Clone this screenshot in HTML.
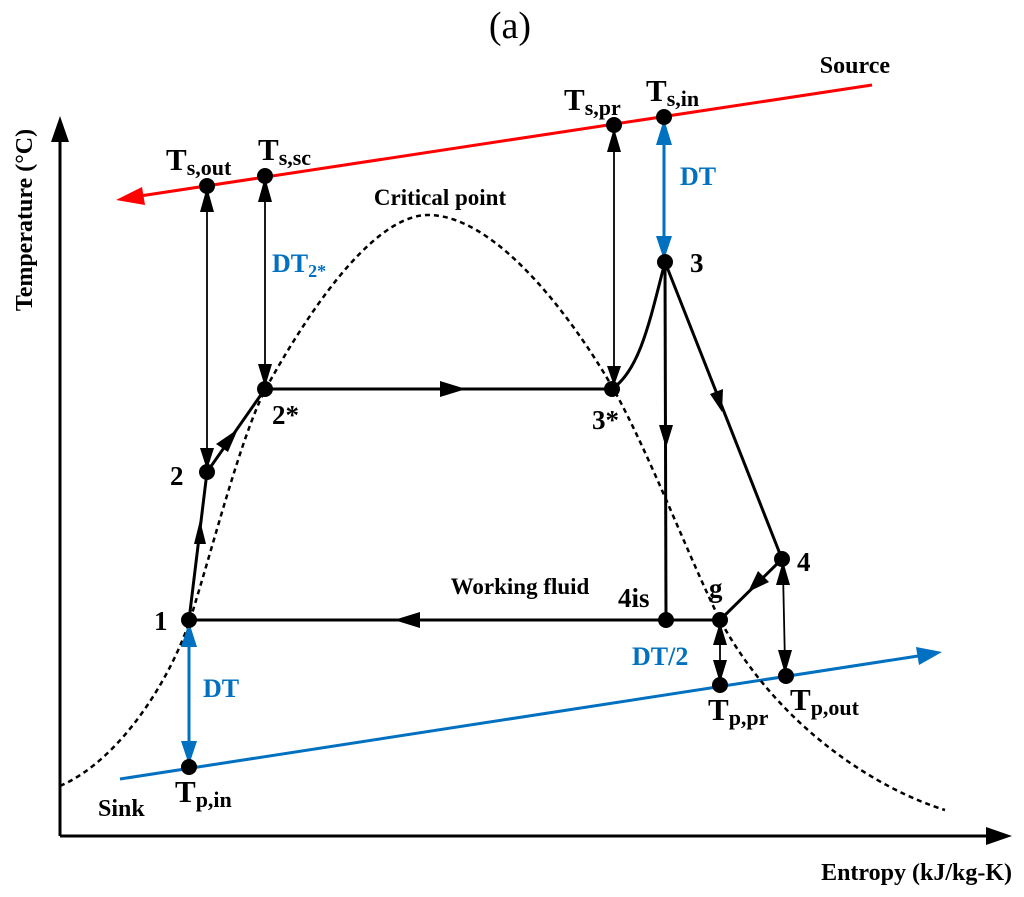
<!DOCTYPE html>
<html><head><meta charset="utf-8"><style>
html,body{margin:0;padding:0;background:#fff;}
svg{display:block;}
text{font-family:"Liberation Serif",serif;font-weight:bold;fill:#000;}
</style></head><body>
<svg width="1024" height="897" viewBox="0 0 1024 897" xmlns="http://www.w3.org/2000/svg">
<text x="510" y="38" font-size="38" text-anchor="middle" style="font-weight:normal">(a)</text>
<!-- axes -->
<line x1="60" y1="836" x2="60" y2="140" stroke="#000" stroke-width="3"/>
<polygon points="60,116 51,142 69,142" fill="#000"/>
<line x1="60" y1="836" x2="990" y2="836" stroke="#000" stroke-width="3"/>
<polygon points="1012,836 986,827 986,845" fill="#000"/>
<text transform="translate(32,220) rotate(-90)" font-size="24" text-anchor="middle">Temperature (°C)</text>
<text x="1012" y="880" font-size="24" text-anchor="end">Entropy (kJ/kg-K)</text>
<!-- source line -->
<line x1="872" y1="85" x2="140" y2="196" stroke="#f00" stroke-width="3"/>
<polygon points="116,200 142,187 145,205" fill="#f00"/>
<text x="890" y="73" font-size="24" text-anchor="end">Source</text>
<!-- sink line -->
<line x1="120" y1="779" x2="918" y2="656" stroke="#0070c0" stroke-width="3"/>
<polygon points="942,652 916,647 919,665" fill="#0070c0"/>
<text x="98" y="816" font-size="24">Sink</text>
<!-- dome -->
<path d="M60,786 C120,760 170,680 190,620 C215,540 240,440 265,390 C320,290 380,215 428,215 C500,215 580,330 614,390 C650,455 690,560 720,620 C780,730 880,790 945,810" fill="none" stroke="#000" stroke-width="2.5" stroke-dasharray="5,4"/>
<text x="440" y="205" font-size="23" text-anchor="middle">Critical point</text>
<!-- cycle -->
<g stroke="#000" stroke-width="3" fill="none">
<polyline points="189,620 207,472 265,389 612,389"/>
<path d="M612,389 C640,370 650,320 665,262"/>
<line x1="665" y1="262" x2="666" y2="620"/>
<line x1="665" y1="262" x2="782" y2="559"/>
<line x1="782" y1="559" x2="720" y2="620"/>
<line x1="720" y1="620" x2="189" y2="620"/>
</g>
<!-- mid arrows -->
<polygon points="200,520 194,544 206,544" fill="#000"/>
<polygon points="238,429 228,452 216,444" fill="#000"/>
<polygon points="466,389 440,381 440,397" fill="#000"/>
<polygon points="666,448 659,425 673,425" fill="#000"/>
<polygon points="722,412 710,394 723,389" fill="#000"/>
<polygon points="748,592 769,582 758,571" fill="#000"/>
<polygon points="394,620 420,612 420,628" fill="#000"/>
<text x="520" y="594" font-size="23" text-anchor="middle">Working fluid</text>
<!-- vertical double arrows black -->
<g stroke="#000" stroke-width="1.8">
<line x1="207" y1="200" x2="207" y2="460"/>
<line x1="265" y1="190" x2="265" y2="376"/>
<line x1="614" y1="140" x2="614" y2="376"/>
<line x1="720" y1="632" x2="720" y2="674"/>
<line x1="783" y1="572" x2="785" y2="664"/>
</g>
<g fill="#000">
<polygon points="207,187 200,212 214,212"/><polygon points="207,470 200,448 214,448"/>
<polygon points="265,177 258,202 272,202"/><polygon points="265,387 258,364 272,364"/>
<polygon points="614,128 607,152 621,152"/><polygon points="614,386 607,366 621,366"/>
<polygon points="720,622 713,645 727,645"/><polygon points="720,683 713,660 727,660"/>
<polygon points="783,561 776,585 790,585"/><polygon points="785,674 778,650 792,650"/>
</g>
<!-- blue DT arrows -->
<g stroke="#0070c0" stroke-width="3">
<line x1="664" y1="130" x2="664" y2="250"/>
<line x1="189" y1="632" x2="189" y2="755"/>
</g>
<g fill="#0070c0">
<polygon points="664,119 656,145 672,145"/><polygon points="664,260 656,236 672,236"/>
<polygon points="189,622 181,647 197,647"/><polygon points="189,765 181,741 197,741"/>
</g>
<!-- dots -->
<g fill="#000">
<circle cx="207" cy="186" r="8"/><circle cx="265" cy="176" r="8"/><circle cx="614" cy="125" r="8"/><circle cx="664" cy="117" r="8"/>
<circle cx="665" cy="262" r="8"/><circle cx="612" cy="389" r="8"/><circle cx="265" cy="389" r="8"/><circle cx="207" cy="472" r="8"/>
<circle cx="189" cy="620" r="8"/><circle cx="666" cy="620" r="8"/><circle cx="720" cy="620" r="8"/><circle cx="782" cy="559" r="8"/>
<circle cx="720" cy="685" r="8"/><circle cx="786" cy="676" r="8"/><circle cx="189" cy="767" r="8"/>
</g>
<!-- labels -->
<g font-size="31">
<text x="166" y="170">T<tspan font-size="22" dy="5">s,out</tspan></text>
<text x="258" y="160">T<tspan font-size="22" dy="5">s,sc</tspan></text>
<text x="564" y="110">T<tspan font-size="22" dy="5">s,pr</tspan></text>
<text x="646" y="101">T<tspan font-size="22" dy="5">s,in</tspan></text>
<text x="708" y="720">T<tspan font-size="22" dy="5">p,pr</tspan></text>
<text x="790" y="710">T<tspan font-size="22" dy="5">p,out</tspan></text>
<text x="175" y="802">T<tspan font-size="22" dy="5">p,in</tspan></text>
</g>
<g font-size="27">
<text x="690" y="272">3</text>
<text x="272" y="424">2*</text>
<text x="592" y="429">3*</text>
<text x="170" y="485">2</text>
<text x="154" y="630">1</text>
<text x="797" y="571">4</text>
<text x="618" y="607">4is</text>
<text x="709" y="597">g</text>
</g>
<g font-size="26">
<text x="680" y="185" style="fill:#0070c0">DT</text>
<text x="272" y="272" style="fill:#0070c0">DT<tspan font-size="18" dy="5" style="fill:#0070c0">2*</tspan></text>
<text x="632" y="665" style="fill:#0070c0">DT/2</text>
<text x="203" y="697" style="fill:#0070c0">DT</text>
</g>
</svg>
</body></html>
